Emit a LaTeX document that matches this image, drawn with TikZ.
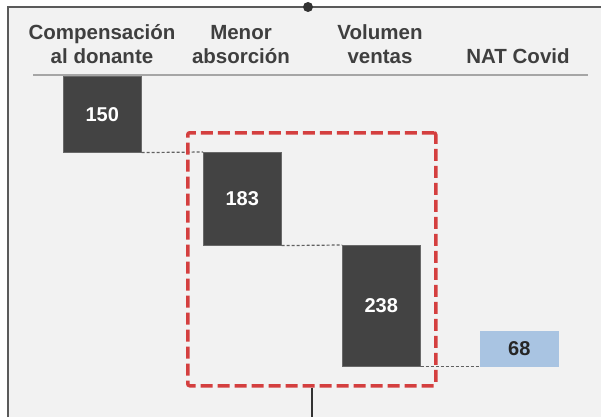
\documentclass[tikz,border=0pt]{standalone}
\usepackage{fontspec}
\setmainfont{Liberation Sans}
\definecolor{panelbg}{HTML}{F2F2F2}
\definecolor{bardark}{HTML}{434343}
\definecolor{barblue}{HTML}{A9C4E2}
\definecolor{hdrtext}{HTML}{3F3F3F}
\definecolor{frameline}{HTML}{5A5A5A}
\definecolor{ruleline}{HTML}{A6A6A6}
\definecolor{focusred}{HTML}{D43F3F}
\definecolor{conngray}{HTML}{606060}
\tikzset{
  hdr/.style={font=\fontsize{20.5}{24}\selectfont\bfseries, text=hdrtext, align=center, inner sep=0pt, anchor=south},
  bar/.style={fill=bardark, draw=bardark!80!white, line width=0.6pt, inner sep=0pt, anchor=north west, minimum width=78pt,
    text=white, font=\fontsize{20}{24}\selectfont\bfseries},
  bluebar/.style={bar, fill=barblue, draw=barblue, text=black!85},
  conn/.style={draw=conngray, line width=1.2pt, dash pattern=on 3pt off 2pt},
  focusbox/.style={draw=focusred, line width=3.5pt, dash pattern=on 12pt off 5pt, rounded corners=2pt,
    inner sep=0pt, anchor=north west, minimum width=248pt, minimum height=253pt},
}
\begin{document}
\begin{tikzpicture}[x=1pt,y=-1pt]
\useasboundingbox (0,0) rectangle (601,417);
\fill[white] (0,0) rectangle (601,417);
\fill[panelbg] (8,7) rectangle (601,417);
\draw[frameline, line width=1.8pt] (8,417) -- (8,7) -- (601,7);
\coordinate (topdot) at (308,7);
\fill[black!80] (topdot) circle (5pt);
% headers
\node[hdr] (h1) at (102,71) {\strut Compensación\\\strut al donante};
\node[hdr] (h2) at (241,71) {\strut Menor\\\strut absorción};
\node[hdr] (h3) at (380,71) {\strut Volumen\\\strut ventas};
\node[hdr] (h4) at (518,71) {\strut NAT Covid};
\coordinate (ruleL) at (33,75);
\coordinate (ruleR) at (588,75);
\draw[ruleline, line width=2pt] (ruleL) -- (ruleR);
% bars
\node[bar, minimum height=76pt] (b1) at (63,76) {150};
\node[bar, minimum height=93pt] (b2) at (203,152) {183};
\node[bar, minimum height=121pt] (b3) at (342,245) {238};
\node[bluebar, minimum height=35pt] (b4) at (480,331) {68};
% connectors
\draw[conn] (b1.south east) -- (b2.north west);
\draw[conn] (b2.south east) -- (b3.north west);
\draw[conn] (b3.south east) -- (b4.south west);
% focus box
\node[focusbox] (focus) at (186,131) {};
\coordinate (bottomend) at (focus.south |- 0,417);
\draw[black!80, line width=2pt] (focus.south) -- (bottomend);
\end{tikzpicture}
\end{document}
